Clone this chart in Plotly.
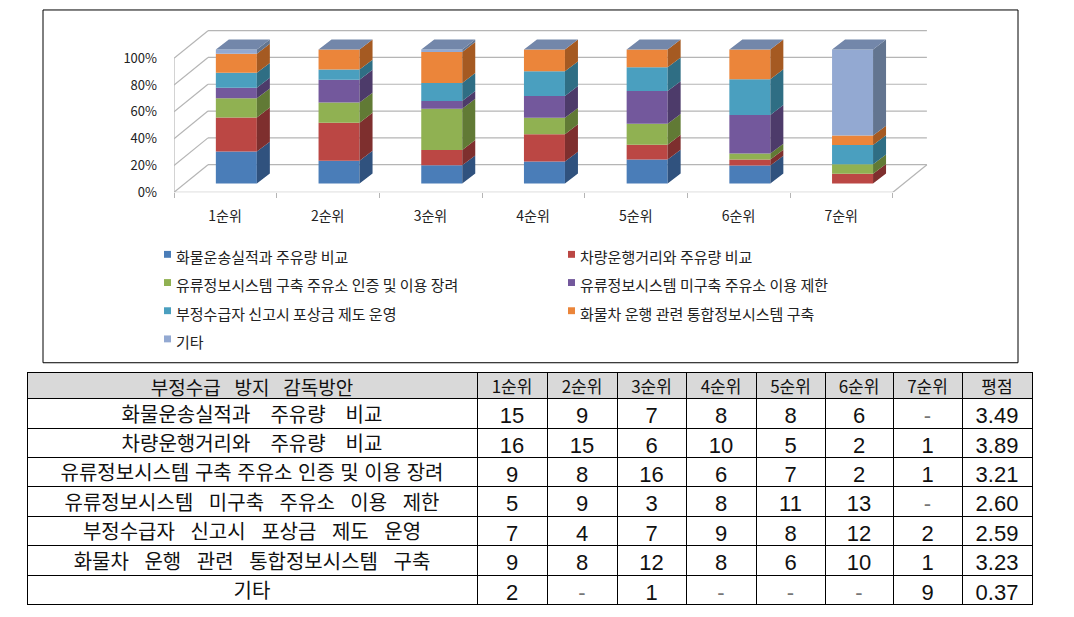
import plotly.graph_objects as go

# data
ranks = ["1순위", "2순위", "3순위", "4순위", "5순위", "6순위", "7순위"]
series_names = [
    "화물운송실적과 주유량 비교",
    "차량운행거리와 주유량 비교",
    "유류정보시스템 구축 주유소 인증 및 이용 장려",
    "유류정보시스템 미구축 주유소 이용 제한",
    "부정수급자 신고시 포상금 제도 운영",
    "화물차 운행 관련 통합정보시스템 구축",
    "기타",
]
counts_1 = [15, 9, 7, 8, 8, 6, 0]
counts_2 = [16, 15, 6, 10, 5, 2, 1]
counts_3 = [9, 8, 16, 6, 7, 2, 1]
counts_4 = [5, 9, 3, 8, 11, 13, 0]
counts_5 = [7, 4, 7, 9, 8, 12, 2]
counts_6 = [9, 8, 12, 8, 6, 10, 1]
counts_7 = [2, 0, 1, 0, 0, 0, 9]
scores = ["3.49", "3.89", "3.21", "2.60", "2.59", "3.23", "0.37"]
y_ticks = [0, 20, 40, 60, 80, 100]

counts = [counts_1, counts_2, counts_3, counts_4, counts_5, counts_6, counts_7]
front_colors = ["#4A7DB8", "#BB4744", "#90B152", "#73589C", "#4A9FBF", "#EB853A", "#93A9D2"]
side_colors = ["#30527E", "#7E2F2E", "#617A35", "#4D3B6A", "#2F6E84", "#A55A22", "#637590"]
top_color = "#7387AA"
grid_color = "#B5B5B5"

W, H = 1074, 617
OFF = 8  # the page puts the figure 8px in from the top left corner
# pixel geometry of the pseudo 3d chart (page pixels)
X0_PX, CAT_PX = 174, 102.7     # front left edge, width of one category
Y0_PX, PCT_PX = 195, 1.36      # front floor, pixels per percent
X_END_PX, Y_TOP_PX = 945, 18


def px2paper_x(px):
    return (px - OFF) / W


def px2paper_y(py):
    return (H - (py - OFF)) / H


# depth offsets in data units
wall_dx, wall_dy = 34 / CAT_PX, 28 / PCT_PX
front_dx, front_dy = 11 / CAT_PX, 9 / PCT_PX
side_dx, side_dy = 13 / CAT_PX, 10 / PCT_PX
bar_w = 41 / CAT_PX

n_cat = len(ranks)
totals = [sum(c[i] for c in counts) for i in range(n_cat)]
shares = [[c[i] / totals[i] * 100 for i in range(n_cat)] for c in counts]

fig = go.Figure()

bases = [0.0] * n_cat
for k, name in enumerate(series_names):
    xs = [i + 0.5 + front_dx for i in range(n_cat)]
    fig.add_trace(go.Bar(
        x=xs, y=shares[k], base=[b + front_dy for b in bases], width=bar_w,
        marker=dict(color=front_colors[k], line=dict(width=0)),
        name=name, showlegend=False, hoverinfo="skip",
    ))
    # side faces
    sx, sy = [], []
    for i in range(n_cat):
        if shares[k][i] <= 0:
            continue
        xr = i + 0.5 + front_dx + bar_w / 2
        b = bases[i] + front_dy
        t = b + shares[k][i]
        sx += [xr, xr + side_dx, xr + side_dx, xr, xr, None]
        sy += [b, b + side_dy, t + side_dy, t, b, None]
    fig.add_trace(go.Scatter(
        x=sx, y=sy, mode="lines", fill="toself", fillcolor=side_colors[k],
        line=dict(width=0), showlegend=False, hoverinfo="skip",
    ))
    bases = [bases[i] + shares[k][i] for i in range(n_cat)]

# top faces
tx, ty = [], []
for i in range(n_cat):
    xl = i + 0.5 + front_dx - bar_w / 2
    xr = xl + bar_w
    t = bases[i] + front_dy
    tx += [xl, xr, xr + side_dx, xl + side_dx, xl, None]
    ty += [t, t, t + side_dy, t + side_dy, t, None]
fig.add_trace(go.Scatter(
    x=tx, y=ty, mode="lines", fill="toself", fillcolor=top_color,
    line=dict(width=0), showlegend=False, hoverinfo="skip",
))

# walls and grid
shapes = []
line = dict(color=grid_color, width=1.2)
for p in y_ticks:
    shapes.append(dict(type="line", xref="x", yref="y", x0=wall_dx, y0=wall_dy + p,
                       x1=n_cat + wall_dx, y1=wall_dy + p, line=line, layer="below"))
    shapes.append(dict(type="line", xref="x", yref="y", x0=0, y0=p,
                       x1=wall_dx, y1=wall_dy + p, line=line, layer="below"))
shapes.append(dict(type="line", xref="x", yref="y", x0=0, y0=0, x1=n_cat, y1=0,
                   line=line, layer="below"))
shapes.append(dict(type="line", xref="x", yref="y", x0=n_cat, y0=0,
                   x1=n_cat + wall_dx, y1=wall_dy, line=line, layer="below"))
shapes.append(dict(type="line", xref="x", yref="y", x0=0, y0=0, x1=0, y1=100,
                   line=line, layer="below"))

# chart frame
shapes.append(dict(type="rect", xref="paper", yref="paper",
                   x0=px2paper_x(43), y0=px2paper_y(368), x1=px2paper_x(1018), y1=px2paper_y(10),
                   line=dict(color="black", width=1)))

# legend keys
annotations = []
for k, name in enumerate(series_names):
    col, row = k % 2, k // 2
    kx = 164 + col * 404
    ky = 260.5 + row * 28.6
    shapes.append(dict(type="rect", xref="paper", yref="paper",
                       x0=px2paper_x(kx), x1=px2paper_x(kx + 7),
                       y0=px2paper_y(ky + 1), y1=px2paper_y(ky - 6),
                       fillcolor=front_colors[k], line=dict(width=0)))
    annotations.append(dict(xref="paper", yref="paper", x=px2paper_x(kx + 10), y=px2paper_y(ky),
                            xanchor="left", yanchor="middle", showarrow=False, text=name,
                            font=dict(size=15, color="#222222", family="Noto Sans CJK KR")))


# table
def wide(s, gap="\u2002\u00a0"):
    return s.replace(" ", gap)


# row 3 is set tighter in the reference, the two short rows looser
name_gaps = ["\u2003", "\u2003", "\u00a0", "\u2002\u00a0", "\u2002\u00a0", "\u2002\u00a0", " "]
header_vals = [wide("부정수급 방지 감독방안")] + ranks + ["평점"]
cell_cols = [[wide(n, g) for n, g in zip(series_names, name_gaps)]]
cell_colors = [["#111111"] * len(series_names)]
for i in range(n_cat):
    cell_cols.append([str(c[i]) if c[i] else "-" for c in counts])
    cell_colors.append(["#111111" if c[i] else "#777777" for c in counts])
cell_cols.append(scores)
cell_colors.append(["#111111"] * len(scores))

num_font = "Liberation Sans Narrow, Liberation Sans, Noto Sans CJK KR"
fig.add_trace(go.Table(
    domain=dict(x=[px2paper_x(27), px2paper_x(1032)], y=[px2paper_y(618), px2paper_y(378)]),
    columnwidth=[450, 70, 70, 69, 70, 69, 68, 69, 70],
    header=dict(values=header_vals, fill_color="#D9D9D9", height=26, align="center",
                line=dict(color="black", width=1),
                font=dict(size=[19] + [17] * 8, color="#111111",
                          family="Liberation Sans Narrow, Noto Sans CJK KR")),
    cells=dict(values=cell_cols, fill_color="white", height=29.4, align="center",
               line=dict(color="black", width=1),
               font=dict(size=[20] + [22] * 8, color=cell_colors, family=num_font)),
))

fig.update_layout(
    width=W, height=H,
    margin=dict(l=0, r=0, t=0, b=0),
    paper_bgcolor="white", plot_bgcolor="white",
    font=dict(family="Noto Sans CJK KR", color="#333333"),
    barmode="overlay",
    showlegend=False,
    shapes=shapes,
    annotations=annotations,
    xaxis=dict(
        domain=[px2paper_x(X0_PX), px2paper_x(X_END_PX)],
        range=[0, (X_END_PX - X0_PX) / CAT_PX],
        tickvals=list(range(n_cat + 1)), ticktext=ranks + [""],
        ticklabelshift=round(CAT_PX / 2), ticks="outside", ticklen=5, tickcolor=grid_color,
        ticklabelstandoff=6,
        showgrid=False, zeroline=False, showline=False,
        tickfont=dict(size=14, color="#222222"), fixedrange=True,
    ),
    yaxis=dict(
        domain=[px2paper_y(Y0_PX), px2paper_y(Y_TOP_PX)],
        range=[0, (Y0_PX - Y_TOP_PX) / PCT_PX],
        tickvals=y_ticks, ticktext=[f"{p}%" for p in y_ticks],
        ticks="", ticklabelstandoff=16,
        showgrid=False, zeroline=False, showline=False,
        tickfont=dict(size=13, color="#222222"), fixedrange=True,
    ),
)

fig.write_html("out.html")
